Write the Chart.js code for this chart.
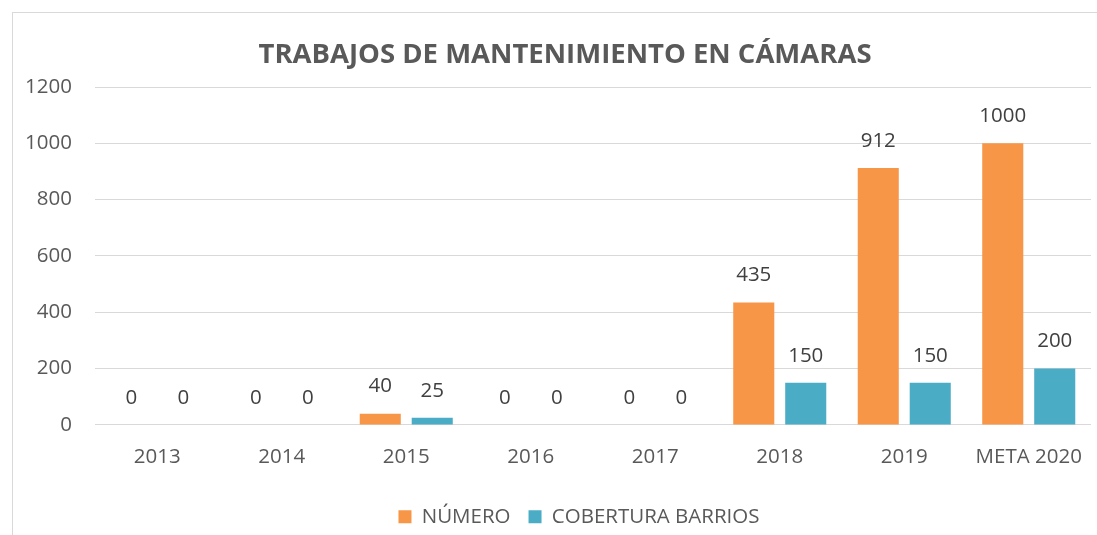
<!DOCTYPE html>
<html>
<head>
<meta charset="utf-8">
<script src="https://cdn.jsdelivr.net/npm/chart.js@4.4.0/dist/chart.umd.min.js"></script>
<style>
	html, body { margin: 0; padding: 0; background: #fff; overflow: hidden; }
	#wrap {
		position: absolute; left: 12px; top: 12px;
		width: 1104px; height: 540px;
		border: 1px solid #d9d9d9;
	}
	#myChart { display: block; }
</style>
</head>
<body>
<div id="wrap"><canvas id="myChart" width="1104" height="534"></canvas></div>
<script>
// Datos
const categorias = ["2013", "2014", "2015", "2016", "2017", "2018", "2019", "META 2020"];
const numero = [0, 0, 40, 0, 0, 435, 912, 1000];
const coberturaBarrios = [0, 0, 25, 0, 0, 150, 150, 200];
const ticksY = [0, 200, 400, 600, 800, 1000, 1200];

const fuente = "'Open Sans', 'Liberation Sans', sans-serif";

// etiquetas de valor encima de cada barra
const etiquetas = {
	id: "etiquetas",
	afterLayout(chart) {
		// la leyenda del original está un poco a la derecha del título
		chart.legend.left += 14;
		chart.legend.right += 14;
	},
	afterDatasetsDraw(chart) {
		const ctx = chart.ctx;
		ctx.save();
		ctx.font = "20.5px " + fuente;
		ctx.fillStyle = "#404040";
		ctx.textAlign = "center";
		ctx.textBaseline = "middle";
		chart.data.datasets.forEach((ds, i) => {
			chart.getDatasetMeta(i).data.forEach((bar, j) => {
				ctx.fillText(String(ds.data[j]), bar.x, bar.y - 27);
			});
		});
		ctx.restore();
	},
};

new Chart(document.getElementById("myChart").getContext("2d"), {
	type: "bar",
	data: {
		labels: categorias,
		datasets: [
			{
				label: "NÚMERO",
				data: numero,
				backgroundColor: "#F79646",
			},
			{
				label: "COBERTURA BARRIOS",
				data: coberturaBarrios,
				backgroundColor: "#4BACC6",
			},
		],
	},
	options: {
		responsive: false,
		animation: false,
		categoryPercentage: 0.835,
		barPercentage: 0.79,
		layout: { padding: { left: 0, right: 0, top: 0, bottom: 10 } },
		plugins: {
			title: {
				display: true,
				text: "TRABAJOS DE MANTENIMIENTO EN CÁMARAS",
				color: "#595959",
				font: { family: fuente, size: 27.5, weight: "bold" },
				padding: { top: 26, bottom: 15 },
			},
			legend: {
				position: "bottom",
				labels: {
					color: "#595959",
					font: { family: fuente, size: 20.5 },
					boxWidth: 13,
					boxHeight: 13,
					padding: 18,
				},
			},
			tooltip: { enabled: false },
		},
		scales: {
			x: {
				grid: { display: false, drawTicks: false },
				border: { display: false },
				ticks: {
					color: "#595959",
					font: { family: fuente, size: 20.5 },
					padding: 19.5,
				},
			},
			y: {
				min: 0,
				max: 1200,
				afterFit(scale) { scale.width = 82; },
				afterBuildTicks(scale) { scale.ticks = ticksY.map((v) => ({ value: v })); },
				grid: { color: "#d9d9d9", lineWidth: 1, drawTicks: false },
				border: { display: false },
				ticks: {
					color: "#595959",
					font: { family: fuente, size: 20.5 },
					padding: 23,
					callback: (v) => String(v),
				},
			},
			// eje vacío a la derecha, solo reserva el margen
			margen: {
				position: "right",
				afterFit(scale) { scale.width = 26; },
				grid: { display: false, drawTicks: false },
				border: { display: false },
				ticks: { display: false },
			},
		},
	},
	plugins: [etiquetas],
});
</script>
</body>
</html>
